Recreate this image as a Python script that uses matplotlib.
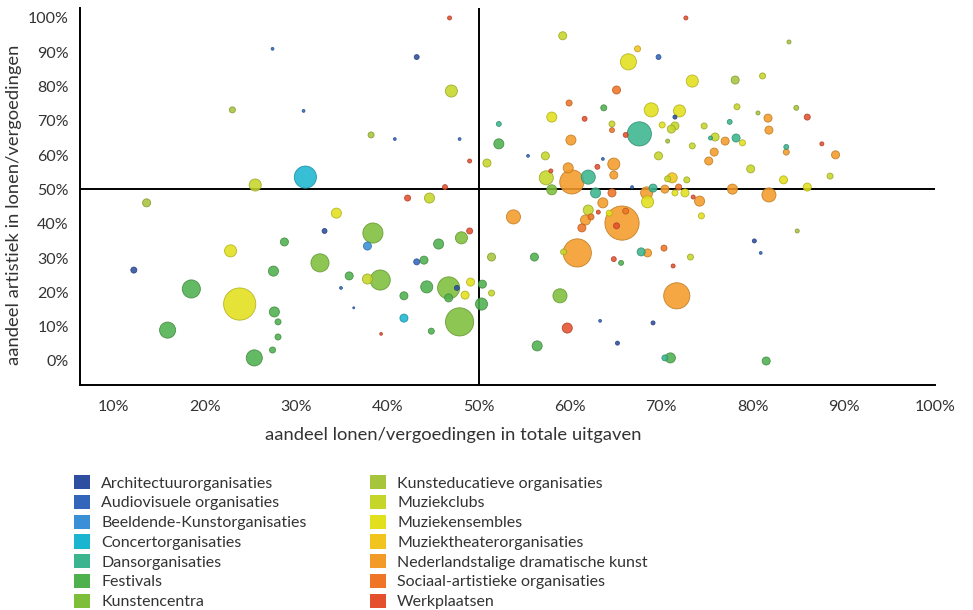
import numpy as np
import matplotlib.pyplot as plt
from matplotlib.patches import Patch
from matplotlib.colors import to_rgb

plt.rcParams['font.family'] = ['Lato', 'DejaVu Sans']

sectoren = ['Architectuurorganisaties', 'Audiovisuele organisaties',
            'Beeldende-Kunstorganisaties', 'Concertorganisaties',
            'Dansorganisaties', 'Festivals', 'Kunstencentra',
            'Kunsteducatieve organisaties', 'Muziekclubs', 'Muziekensembles',
            'Muziektheaterorganisaties', 'Nederlandstalige dramatische kunst',
            'Sociaal-artistieke organisaties', 'Werkplaatsen']
kleuren = ['#2e4fa0', '#3366bb', '#3b8fd6', '#1cb5d0', '#3bb58e', '#4fb04e',
           '#7dbf3a', '#a6c43c', '#c5d52a', '#e2e01c', '#f2c51e', '#f39b28',
           '#ef7426', '#e4502e']

# aandeel lonen/vergoedingen in totale uitgaven (%)
lonen = [13.6, 23.0, 27.4, 25.5, 12.2, 22.8, 27.5, 18.5, 23.8, 27.6, 15.9, 28.0, 28.0, 27.4, 25.4,
         46.8, 43.2, 47.0, 30.8, 38.2, 40.8, 47.9, 49.0, 31.0, 46.3, 42.2, 44.6, 34.4, 28.7, 33.1,
         38.4, 37.8, 45.6, 48.1, 49.0, 43.2, 44.0, 32.6, 35.8, 37.8, 39.2, 34.9, 44.3, 46.7, 47.6,
         46.7, 49.1, 48.5, 41.8, 36.3, 41.8, 47.9, 44.8, 39.3,
         72.7, 59.2, 67.4, 69.7, 66.4, 73.4, 65.1, 59.9, 63.7, 68.9, 72.0, 71.5, 58.0, 61.6, 52.2,
         64.6, 64.6, 70.1, 71.5, 71.1, 74.7, 67.6, 66.1, 70.7, 52.2, 60.1, 73.4, 55.4, 57.3, 69.7,
         63.6, 50.9, 64.8, 63.0, 64.8, 57.4, 58.0, 57.9, 59.8, 60.2, 62.0, 62.8, 64.6, 63.6, 66.8,
         68.4, 69.1, 68.5, 70.4, 71.2, 70.7, 71.9, 71.5, 72.6, 72.8, 74.2, 73.5, 74.4,
         84.0, 78.1, 81.1, 78.3, 80.6, 84.8, 81.7, 86.0, 77.5, 81.8, 75.9, 75.4, 77.0, 78.2, 78.9,
         87.6, 83.7, 83.7, 75.8, 89.1, 75.2, 79.8, 83.4, 88.5, 77.8, 86.0, 81.8, 84.9, 80.2, 80.9,
         81.5,
         53.8, 62.0, 63.1, 61.7, 62.3, 61.3, 64.3, 65.7, 66.1, 65.1, 60.8, 59.3, 67.8, 68.5, 70.3,
         73.2, 56.1, 51.4, 64.8, 65.6, 71.3, 50.4, 51.4, 50.3, 58.9, 71.7, 63.3, 69.1, 59.7, 65.2,
         56.4, 70.4, 71.0]

# aandeel artistiek in lonen/vergoedingen (%)
artistiek = [46.1, 73.2, 91.0, 51.3, 26.5, 32.1, 26.2, 21.0, 16.6, 14.3, 9.0, 11.4, 7.0, 3.2, 0.9,
             100.0, 88.6, 78.7, 72.9, 65.9, 64.7, 64.7, 58.3, 53.6, 50.7, 47.5, 47.5, 43.1, 34.7, 37.9,
             37.3, 33.5, 34.1, 35.9, 37.9, 28.9, 29.4, 28.6, 24.8, 23.9, 23.6, 21.3, 21.6, 21.3, 21.3,
             18.4, 23.0, 19.2, 19.0, 15.5, 12.5, 11.4, 8.7, 7.9,
             100.0, 94.8, 91.0, 88.6, 87.2, 81.6, 79.0, 75.2, 73.8, 73.2, 72.9, 71.1, 71.1, 70.6, 69.1,
             69.1, 67.3, 68.8, 68.5, 67.6, 68.5, 66.2, 65.9, 64.1, 63.3, 64.4, 62.7, 59.8, 59.8, 59.8,
             58.9, 57.7, 57.4, 56.6, 54.2, 53.4, 49.9, 55.4, 56.3, 52.2, 53.6, 49.0, 49.0, 46.1, 50.7,
             49.0, 50.4, 46.4, 50.1, 53.4, 53.1, 50.7, 49.0, 49.0, 52.8, 46.6, 47.8, 42.3,
             93.0, 81.9, 83.1, 74.1, 72.3, 73.8, 70.8, 71.1, 69.7, 67.3, 65.3, 65.0, 64.1, 65.0, 63.6,
             63.3, 62.4, 60.9, 60.9, 60.1, 58.3, 56.0, 52.8, 53.9, 50.1, 50.7, 48.4, 37.9, 35.0, 31.5,
             0.0,
             42.0, 44.0, 43.4, 41.1, 42.0, 38.8, 43.1, 40.2, 43.7, 39.4, 31.5, 31.8, 31.8, 31.5, 32.9,
             30.3, 30.3, 30.3, 29.7, 28.6, 27.7, 22.4, 19.8, 16.6, 19.0, 19.0, 11.7, 11.1, 9.6, 5.2,
             4.4, 0.9, 0.9]

# omvang van de instelling (relatief)
omvang = [16, 9, 2, 36, 9, 36, 25, 81, 256, 25, 64, 9, 9, 9, 64,
          4, 6, 36, 2, 9, 2, 2, 4, 121, 6, 9, 25, 25, 16, 6,
          100, 16, 25, 36, 9, 9, 16, 81, 16, 25, 100, 2, 36, 121, 6,
          16, 16, 16, 16, 1, 16, 196, 9, 2,
          4, 16, 9, 6, 64, 36, 16, 9, 9, 49, 36, 4, 25, 6, 6,
          9, 6, 9, 16, 16, 9, 144, 6, 4, 25, 25, 9, 2, 16, 16,
          2, 16, 36, 6, 16, 49, 25, 4, 25, 144, 49, 25, 16, 25, 2,
          36, 16, 36, 16, 25, 9, 9, 9, 16, 9, 25, 4, 9,
          4, 16, 9, 9, 4, 6, 16, 9, 6, 16, 16, 4, 16, 16, 9,
          4, 6, 9, 16, 16, 16, 16, 16, 9, 25, 16, 49, 4, 4, 2,
          16,
          49, 25, 4, 25, 9, 16, 9, 289, 9, 9, 196, 9, 16, 16, 9,
          9, 16, 16, 6, 6, 4, 16, 9, 36, 49, 169, 2, 4, 25, 4,
          25, 9, 25]

sector = [7, 7, 1, 8, 0, 9, 5, 5, 9, 5, 5, 5, 5, 5, 5,
          13, 0, 8, 1, 7, 1, 1, 13, 3, 13, 13, 8, 9, 5, 0,
          6, 2, 5, 6, 13, 1, 5, 6, 5, 8, 6, 1, 5, 6, 0,
          5, 9, 9, 5, 1, 3, 6, 5, 13,
          13, 8, 10, 1, 9, 9, 12, 12, 5, 9, 9, 0, 9, 13, 4,
          8, 12, 9, 8, 8, 8, 4, 13, 7, 5, 11, 8, 1, 8, 8,
          1, 8, 11, 13, 11, 8, 6, 13, 11, 11, 4, 4, 12, 11, 1,
          11, 4, 9, 11, 10, 8, 12, 9, 9, 8, 11, 13, 9,
          7, 7, 8, 8, 7, 7, 11, 13, 4, 11, 8, 4, 11, 4, 9,
          13, 4, 11, 11, 11, 11, 8, 9, 8, 11, 9, 11, 7, 0, 1,
          5,
          11, 8, 13, 11, 12, 12, 9, 11, 12, 13, 11, 8, 4, 11, 12,
          8, 5, 7, 13, 5, 13, 5, 8, 5, 6, 11, 1, 0, 13, 0,
          5, 4, 5]

lonen = np.array(lonen)
artistiek = np.array(artistiek)
omvang = np.array(omvang, dtype=float)
sector = np.array(sector)

fig = plt.figure(figsize=(9.73, 6.10), dpi=100)
ax = fig.add_axes([80 / 973, 1 - 385 / 610, 855 / 973, 377 / 610])

volgorde = np.argsort(-omvang)
fill = [kleuren[s] for s in sector[volgorde]]
edge = [tuple(c * 0.78 for c in to_rgb(kleuren[s])) for s in sector[volgorde]]
ax.scatter(lonen[volgorde], artistiek[volgorde], s=omvang[volgorde] * 2.1,
           c=fill, edgecolors=edge, linewidths=0.6, alpha=0.88, zorder=3)

ax.axvline(50, color='black', lw=1.4, zorder=2)
ax.axhline(50, color='black', lw=1.4, zorder=2)

ax.set_xlim(6.3, 99.7)
ax.set_ylim(-7, 102.9)
ax.set_xticks(range(10, 101, 10))
ax.set_xticklabels([f'{v}%' for v in range(10, 101, 10)])
ax.set_yticks(range(0, 101, 10))
ax.set_yticklabels([f'{v}%' for v in range(0, 101, 10)])
ax.tick_params(length=0, labelsize=11.5, colors='#333333', pad=8)
ax.tick_params(axis='x', pad=11)
for side in ['top', 'right']:
    ax.spines[side].set_visible(False)
for side in ['left', 'bottom']:
    ax.spines[side].set_linewidth(1.4)
ax.set_xlabel('aandeel lonen/vergoedingen in totale uitgaven', fontsize=13.2,
              color='#333333')
ax.set_ylabel('aandeel artistiek in lonen/vergoedingen', fontsize=13.2,
              color='#333333')
ax.xaxis.set_label_coords(0.437, -0.112)
ax.yaxis.set_label_coords(-0.068, 0.477)

handles = [Patch(facecolor=k, edgecolor='none') for k in kleuren]
for kol, x0 in [(0, 66 / 973), (1, 362 / 973)]:
    h = handles[kol * 7:(kol + 1) * 7]
    l = sectoren[kol * 7:(kol + 1) * 7]
    fig.legend(h, l, loc='upper left', bbox_to_anchor=(x0, 1 - 467 / 610),
               frameon=False, fontsize=11.5, handlelength=1.0, handleheight=1.0,
               handletextpad=0.7, labelspacing=0.26, borderpad=0,
               labelcolor='#333333')

plt.savefig('out.png', dpi=100)
